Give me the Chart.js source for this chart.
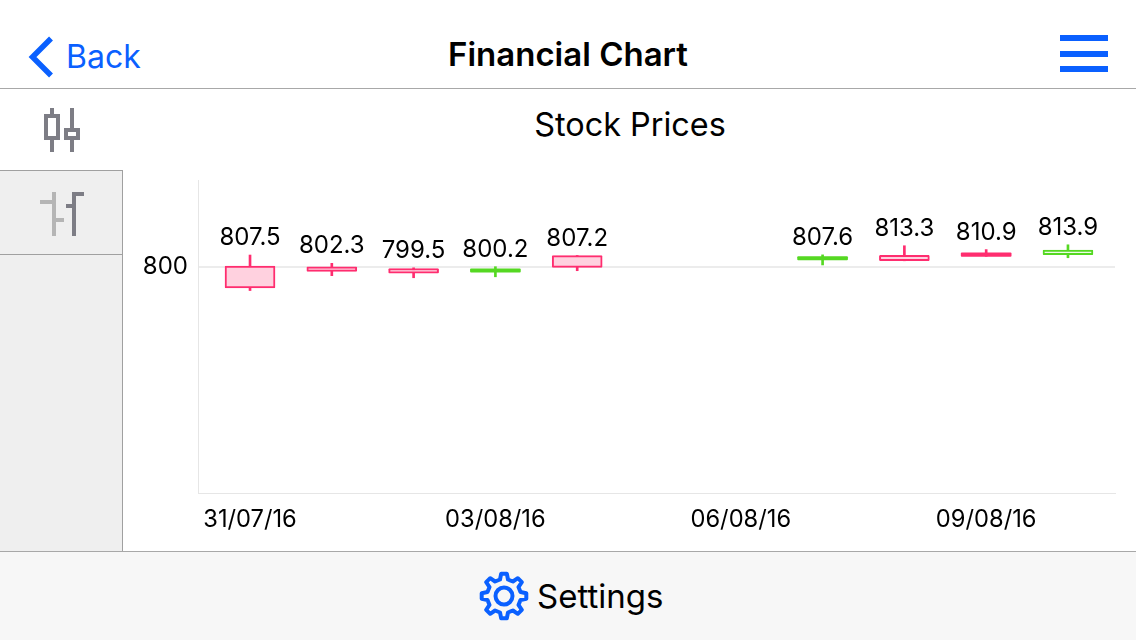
<!DOCTYPE html>
<html>
<head>
<meta charset="utf-8">
<title>Financial Chart</title>
<script src="https://cdn.jsdelivr.net/npm/chart.js@4/dist/chart.umd.min.js"></script>
<style>
    html, body { margin: 0; padding: 0; background: #fff; overflow: hidden; }
    body { width: 1136px; height: 640px; position: relative; font-family: Inter, sans-serif; color: #000; }
    .text { position: absolute; white-space: nowrap; line-height: 40px; height: 40px; }
    .header__line { position: absolute; left: 0; top: 88px; width: 1136px; height: 1px; background: #a8a8a8; }
    .header__title { left: 368px; width: 400px; top: 34px; text-align: center; font-size: 33px; font-weight: 600; }
    .header__back { left: 66px; top: 37px; font-size: 32px; color: #0a60ff; }
    .chart__title { left: 430px; width: 400px; top: 105px; text-align: center; font-size: 32.4px; }
    .side { position: absolute; left: 0; top: 170px; width: 122px; height: 381px; background: #efefef; border-right: 1px solid #a0a0a0; }
    .side__top { position: absolute; left: 0; top: 0; width: 122px; height: 1px; background: #a0a0a0; }
    .side__mid { position: absolute; left: 0; top: 84px; width: 122px; height: 1px; background: #a0a0a0; }
    .footer { position: absolute; left: 0; top: 551px; width: 1136px; height: 89px; background: #f7f7f7; border-top: 1px solid #a8a8a8; box-sizing: border-box; }
    .footer__text { left: 537px; top: 576px; font-size: 33px; }
    svg { position: absolute; left: 0; top: 0; }
    #myChart { position: absolute; left: 124px; top: 170px; }
</style>
</head>
<body>
<div class="header__line"></div>
<div class="text header__title">Financial Chart</div>
<div class="text header__back">Back</div>
<div class="text chart__title">Stock Prices</div>
<div class="side"><div class="side__top"></div><div class="side__mid"></div></div>
<div class="footer"></div>
<div class="text footer__text">Settings</div>
<canvas id="myChart" width="1012" height="381"></canvas>
<svg width="1136" height="640" id="icons">
    <polyline points="51,38.5 32.5,57 51,75.5" fill="none" stroke="#0a60ff" stroke-width="5.5"/>
    <rect x="1060" y="35" width="48" height="6" fill="#0a60ff"/>
    <rect x="1060" y="51" width="48" height="6" fill="#0a60ff"/>
    <rect x="1060" y="66" width="48" height="6" fill="#0a60ff"/>
    <g fill="#7d7d85">
        <path fill-rule="evenodd" d="M50 108h4v6h6v26h-6v12h-4v-12h-6v-26h6zM48 118v18h8v-18z"/>
        <path fill-rule="evenodd" d="M70 108h4v20h6v12h-6v12h-4v-12h-6v-12h6zM68 132v4h8v-4z"/>
        <path d="M72 192h12v4h-8v40h-4v-28h-6v-4h6z"/>
    </g>
    <path fill="#b5b5b5" d="M52 192h4v26h8v4h-8v14h-4v-32h-12v-4h12z"/>
    <path id="gear" fill="none" stroke="#0a60ff" stroke-width="4" stroke-linejoin="round"/>
    <circle cx="504" cy="596" r="8.5" fill="none" stroke="#0a60ff" stroke-width="4"/>
</svg>
<script>
const dates = ['31/07/16', '01/08/16', '02/08/16', '03/08/16', '04/08/16', '05/08/16', '06/08/16', '07/08/16', '08/08/16', '09/08/16', '10/08/16'];
const openValues = [800.6, 800.2, 799, 796.8, 807.1, null, null, 804.5, 807.3, 808.8, 807.7];
const closeValues = [786.9, 797.3, 796.2, 798.8, 799.8, null, null, 806.5, 803.9, 806.7, 810.6];
const highValues = [807.5, 802.3, 799.5, 800.2, 807.2, null, null, 807.6, 813.3, 810.9, 813.9];
const lowValues = [785.3, 794.6, 793.3, 793.9, 797.7, null, null, 801.3, 803.9, 806.7, 805.8];
const yTicks = [800];

const pink = '#ff2d6f';
const green = '#55d822';
const thinBody = 2.5; // bodies under this are drawn solid

function pairs(first, second) {
    let out = [];
    for (let i = 0; i < dates.length; i++) {
        if (first[i] !== null) {
            out.push({ x: i, y: [first[i], second[i]] });
        }
    }
    return out;
}

function isThin(p) {
    return Math.abs(p.y[1] - p.y[0]) < thinBody;
}

function candleColor(ctx, up, down) {
    const p = ctx.raw;
    return p.y[1] > p.y[0] ? up : down;
}

// gear outline for the settings icon
function gearPath(cx, cy, outer, inner, teeth) {
    let d = '';
    const step = Math.PI * 2 / teeth;
    for (let i = 0; i < teeth; i++) {
        const a = i * step - Math.PI / 2;
        const pts = [[inner, a - step * 0.3], [outer, a - step * 0.16], [outer, a + step * 0.16], [inner, a + step * 0.3]];
        for (let p of pts) {
            d += (d ? 'L' : 'M') + (cx + p[0] * Math.cos(p[1])).toFixed(1) + ' ' + (cy + p[0] * Math.sin(p[1])).toFixed(1);
        }
    }
    return d + 'Z';
}
document.getElementById('gear').setAttribute('d', gearPath(504, 596, 22.5, 17, 8));

const highLabels = {
    id: 'highLabels',
    afterDatasetsDraw(chart) {
        const c = chart.ctx;
        c.save();
        c.font = '24px Inter';
        c.fillStyle = '#000';
        c.textAlign = 'center';
        c.textBaseline = 'alphabetic';
        for (let i = 0; i < dates.length; i++) {
            if (highValues[i] === null) continue;
            c.fillText(highValues[i].toFixed(1), chart.scales.x.getPixelForValue(i), chart.scales.y.getPixelForValue(highValues[i]) - 10);
        }
        c.restore();
    }
};

const myChart = new Chart(document.getElementById('myChart').getContext('2d'), {
    type: 'bar',
    data: {
        datasets: [{
            label: 'body',
            data: pairs(openValues, closeValues),
            grouped: false,
            order: 1,
            barThickness: 50,
            borderWidth: ctx => isThin(ctx.raw) ? 0 : 2,
            borderRadius: 1,
            borderSkipped: false,
            borderColor: ctx => candleColor(ctx, green, pink),
            backgroundColor: ctx => isThin(ctx.raw) ? candleColor(ctx, green, pink) : candleColor(ctx, '#ecfbe6', '#ffd1df')
        }, {
            label: 'wick',
            data: pairs(lowValues, highValues),
            grouped: false,
            order: 2,
            barThickness: 2,
            borderWidth: 0,
            backgroundColor: ctx => {
                const i = ctx.raw.x;
                return closeValues[i] > openValues[i] ? green : pink;
            }
        }]
    },
    options: {
        responsive: false,
        animation: false,
        devicePixelRatio: 1,
        layout: { padding: { top: 10, right: 21, left: 0, bottom: 0 } },
        plugins: { legend: { display: false }, tooltip: { enabled: false } },
        scales: {
            x: {
                type: 'linear',
                offset: false,
                min: -0.636,
                max: 10.575,
                afterFit: scale => {
                    scale.height = 58;
                    scale.paddingLeft = 0;
                    scale.paddingRight = 0;
                },
                grid: { display: false },
                border: { color: '#e6e6e6', width: 1 },
                ticks: {
                    stepSize: 3,
                    includeBounds: false,
                    maxRotation: 0,
                    autoSkip: false,
                    padding: 5,
                    color: '#000',
                    font: { family: 'Inter', size: 23.7 },
                    callback: value => dates[value]
                }
            },
            y: {
                min: 658.75,
                max: 854.4,
                afterFit: scale => {
                    scale.width = 74;
                    scale.paddingTop = 0;
                    scale.paddingBottom = 0;
                },
                afterBuildTicks: scale => { scale.ticks = yTicks.map(v => ({ value: v })); },
                grid: { color: '#ececec', drawTicks: false, lineWidth: 2 },
                border: { color: '#e6e6e6', width: 1 },
                ticks: {
                    padding: 10,
                    color: '#000',
                    font: { family: 'Inter', size: 24 }
                }
            }
        }
    },
    plugins: [highLabels]
});
</script>
</body>
</html>
